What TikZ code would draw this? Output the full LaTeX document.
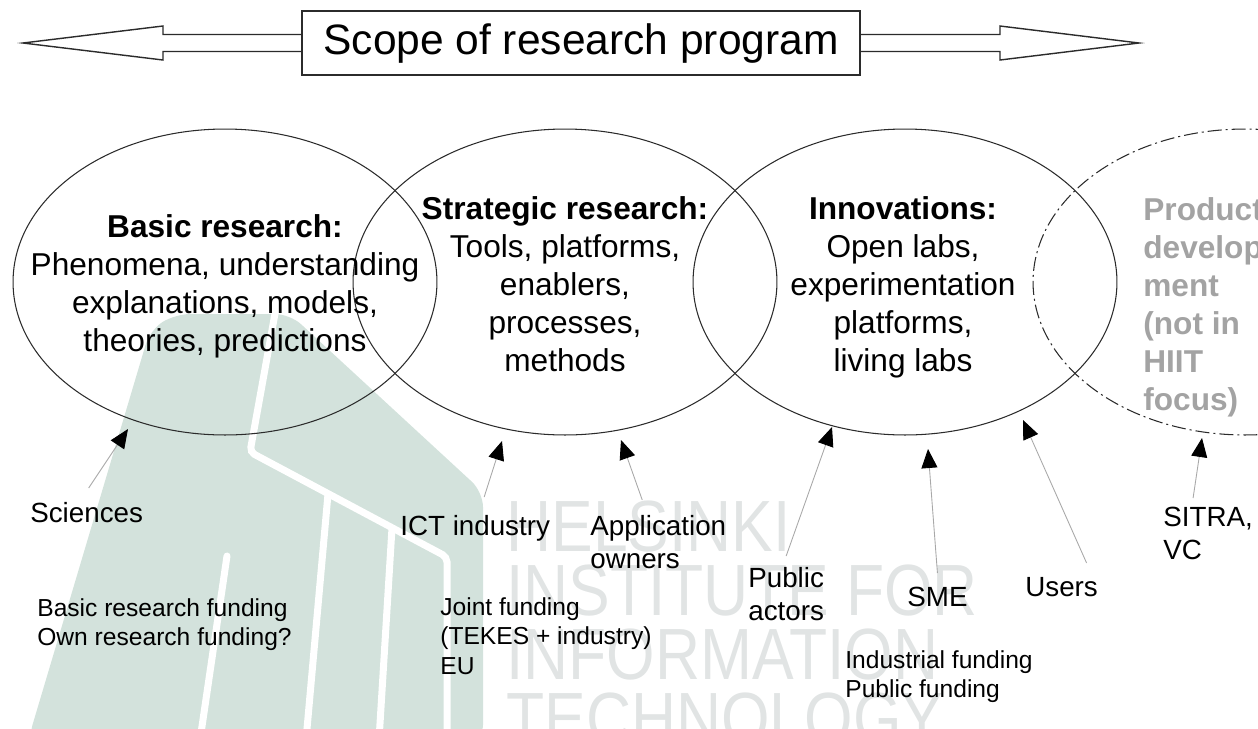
\documentclass[tikz,border=0pt]{standalone}
\usepackage{fontspec}
\setmainfont{Liberation Sans}
\newfontfamily\wmfont[FakeStretch=0.86]{Liberation Sans}
\usepackage{tikz}
\usetikzlibrary{calc,arrows.meta,shapes.geometric}
\definecolor{hiitteal}{HTML}{D3E2DC}
\definecolor{wmgray}{HTML}{E1E4E4}
\definecolor{prodgray}{HTML}{A3A3A3}
\definecolor{feedgray}{HTML}{A8A8A8}
\definecolor{inkdark}{HTML}{2B2B2B}

\begin{document}
\begin{tikzpicture}[x=0.02cm, y=-0.02cm,
  bubble/.style={ellipse, draw=inkdark, line width=0.6pt,
    minimum width=8.48cm, minimum height=6.12cm, inner sep=0pt},
  bubbletxt/.style={align=center, inner sep=0pt, anchor=north,
    font=\fontsize{18}{21.6}\selectfont},
  actor/.style={align=left, inner sep=0pt, anchor=north west,
    font=\fontsize{15.8}{18.8}\selectfont},
  funding/.style={align=left, inner sep=0pt, anchor=north west,
    font=\fontsize{14}{16.8}\selectfont},
  feed/.style={draw=feedgray, line width=0.5pt,
    -{Triangle[length=0.38cm, width=0.32cm, color=black]}},
  outline/.style={draw=inkdark, line width=0.8pt},
  wmgap/.style={white, line width=0.14cm}
]
  \useasboundingbox (0,0) rectangle (1258,728);
  \clip (0,0) rectangle (1258,728);

  % watermark
  \fill[hiitteal, rounded corners=0.3cm] (28,740) -- (150,330) -- (175,314)
    -- (290,314) -- (483,492) -- (483,740) -- cycle;
  \draw[wmgap, rounded corners=0.1cm] (276,308) -- (250,452) -- (447,557) -- (447,740);
  \draw[wmgap] (328,494) -- (306,740);
  \draw[wmgap] (392,528) -- (379,740);
  \draw[wmgap, line cap=round] (227,556) -- (200,740);
  \node[anchor=north west, inner sep=0pt, align=left, text=wmgray,
    font=\wmfont\fontsize{41.3}{36.6}\selectfont] (hiitmark) at (506,500)
    {HELSINKI\\INSTITUTE FOR\\INFORMATION\\TECHNOLOGY};

  % scope banner
  \node[outline, minimum width=11.16cm, minimum height=1.28cm, inner sep=0pt,
    font=\fontsize{24.2}{28}\selectfont] (scope) at (581,43) {Scope of research program};
  \draw[outline] ($(scope.west)+(0,-8.5)$) -- (163,34.5) -- (163,26) -- (23,43)
    -- (163,60) -- (163,51.5) -- ($(scope.west)+(0,8.5)$);
  \draw[outline] ($(scope.east)+(0,-8.5)$) -- (1000,34.5) -- (1000,26) -- (1139,43)
    -- (1000,60) -- (1000,51.5) -- ($(scope.east)+(0,8.5)$);

  % research areas
  \node[bubble] (basic) at (225,282) {};
  \node[bubble] (strategic) at (565,282) {};
  \node[bubble] (innov) at (905,282) {};
  \node[bubble, dash pattern=on 0.28cm off 0.08cm on 0.04cm off 0.08cm] (product) at (1245,282) {};

  \node[bubbletxt] (basictxt) at (225,214)
    {\textbf{Basic research:}\\Phenomena, understanding\\explanations, models,\\theories, predictions};
  \node[bubbletxt] (strattxt) at (565,196)
    {\textbf{Strategic research:}\\Tools, platforms,\\enablers,\\processes,\\methods};
  \node[bubbletxt] (innovtxt) at (903,196)
    {\textbf{Innovations:}\\Open labs,\\experimentation\\platforms,\\living labs};
  \node[bubbletxt, anchor=north west, align=left, text=prodgray,
    font=\fontsize{18}{21.6}\selectfont\bfseries] (prodtxt) at (1143,197)
    {Product\\develop-\\ment\\(not in\\HIIT\\focus)};

  % actors
  \node[actor] (sciences) at (30,502) {Sciences};
  \node[actor] (ict) at (400,515) {ICT industry};
  \node[actor] (appown) at (590,515) {Application\\owners};
  \node[actor] (public) at (748,567) {Public\\actors};
  \node[actor] (sme) at (907,587) {SME};
  \node[actor] (users) at (1025,577) {Users};
  \node[actor] (sitra) at (1163,507) {SITRA,\\VC};

  \node[funding] (fundbasic) at (37,598) {Basic research funding\\Own research funding?};
  \node[funding] (fundjoint) at (440,597) {Joint funding\\(TEKES + industry)\\EU};
  \node[funding] (fundind) at (845,650) {Industrial funding\\Public funding};

  \coordinate (sciTip) at (128,429);
  \coordinate (ictTip) at (502,441);
  \coordinate (appTip) at (621,440);
  \coordinate (pubTip) at (832,427);
  \coordinate (smeTip) at (928,449);
  \coordinate (usersTip) at (1023,420);
  \coordinate (sitraTip) at (1202,438);

  \draw[feed] ([xshift=0.04cm, yshift=0.28cm]sciences.north) -- (sciTip);
  \draw[feed] ([xshift=0.18cm, yshift=0.36cm]ict.north) -- (ictTip);
  \draw[feed] ([xshift=-0.32cm, yshift=0.3cm]appown.north) -- (appTip);
  \draw[feed] ([yshift=0.22cm]public.north) -- (pubTip);
  \draw[feed] ([yshift=0.28cm]sme.north) -- (smeTip);
  \draw[feed] ([xshift=0.5cm, yshift=0.28cm]users.north) -- (usersTip);
  \draw[feed] ([xshift=-0.3cm, yshift=0.18cm]sitra.north) -- (sitraTip);
\end{tikzpicture}
\end{document}
